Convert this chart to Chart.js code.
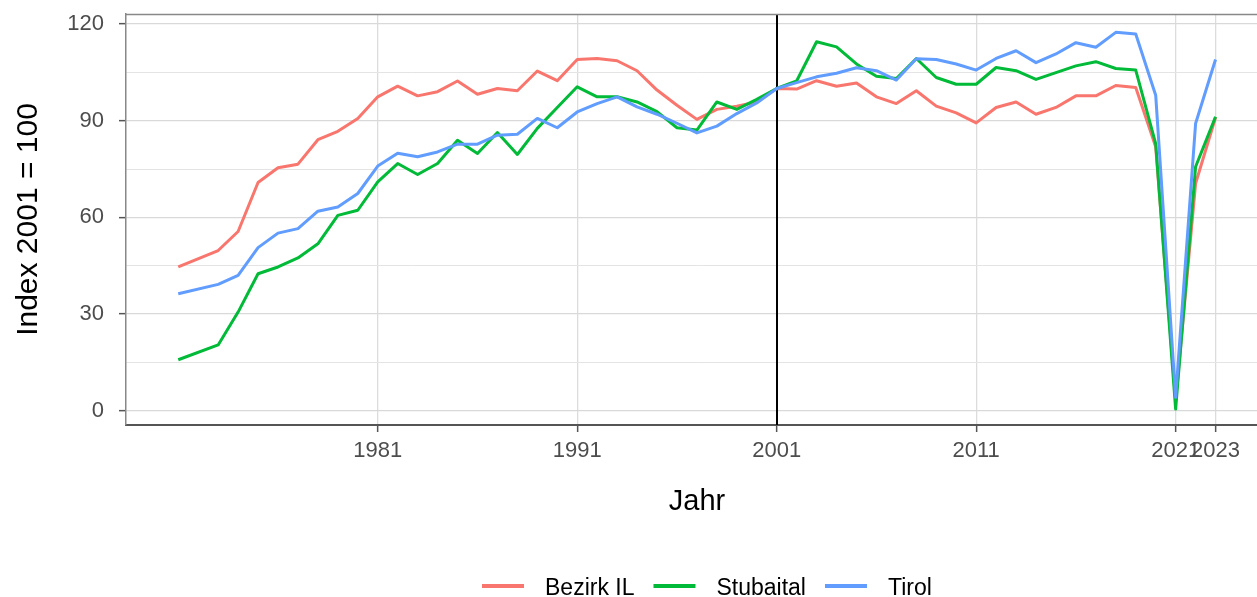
<!DOCTYPE html>
<html><head><meta charset="utf-8">
<script src="https://cdn.jsdelivr.net/npm/chart.js@4"></script>
<style>html,body{margin:0;padding:0;overflow:hidden;background:#fff;width:1257px;height:597px}
canvas{display:block}</style></head>
<body><canvas id="c" width="1268" height="597" style="width:1268px;height:597px"></canvas>
<script>
const years = [1971,1973,1974,1975,1976,1977,1978,1979,1980,1981,1982,1983,1984,1985,1986,1987,1988,1989,1990,
  1991,1992,1993,1994,1995,1996,1997,1998,1999,2000,2001,2002,2003,2004,2005,2006,2007,2008,2009,2010,
  2011,2012,2013,2014,2015,2016,2017,2018,2019,2020,2021,2022,2023];
const bezirkIL = [44.6,49.7,55.6,70.8,75.4,76.5,84.1,86.7,90.7,97.4,100.7,97.7,99.0,102.3,98.2,100.0,99.3,105.4,102.4,
  109.0,109.3,108.6,105.5,99.5,94.8,90.4,93.5,94.5,95.8,100,99.8,102.4,100.7,101.7,97.4,95.3,99.3,94.5,92.4,
  89.3,94.1,95.8,92.0,94.1,97.7,97.7,100.9,100.3,81.9,3.1,70.5,91.0];
const stubaital = [15.8,20.4,30.6,42.5,44.6,47.4,51.8,60.6,62.2,71.0,76.7,73.3,76.7,83.9,79.8,86.3,79.5,87.6,94.1,
  100.5,97.4,97.4,95.8,92.8,87.8,87.1,95.8,93.5,96.6,100,102.3,114.5,112.9,107.6,103.8,103.1,109.3,103.4,101.3,
  101.3,106.5,105.5,102.8,104.9,107.0,108.3,106.2,105.7,82.9,0.5,75.7,91.2];
const tirol = [36.3,39.2,42.0,50.6,55.1,56.5,61.9,63.2,67.4,75.9,79.9,78.8,80.3,82.7,82.7,85.5,85.8,90.7,87.8,
  92.7,95.3,97.4,94.3,92.0,89.2,86.2,88.3,92.2,95.5,100,101.8,103.6,104.7,106.4,105.5,102.6,109.2,109.0,107.6,
  105.7,109.3,111.7,108.0,110.7,114.2,112.8,117.4,116.9,97.9,4.1,89.1,109.0];
const seriesNames = ['Bezirk IL','Stubaital','Tirol'];
const seriesColors = ['#F8766D','#00BA38','#619CFF'];
const xTicks = [1981,1991,2001,2011,2021,2023];
const yMajor = [0,30,60,90,120];
const yMinor = [15,45,75,105];
const refYear = 2001;

const FONT = '"Liberation Sans", Arial, sans-serif';
const toXY = arr => years.map((y,i)=>({x:y, y:arr[i]}));

const panelPlugin = {
  id: 'panel',
  beforeDatasetsDraw(chart) {
    const {ctx, chartArea:a, scales} = chart;
    ctx.save();
    const px = Math.round(scales.x.getPixelForValue(refYear)) ;
    ctx.strokeStyle = '#000'; ctx.lineWidth = 2;
    ctx.beginPath(); ctx.moveTo(px, a.top); ctx.lineTo(px, a.bottom); ctx.stroke();
    ctx.strokeStyle = '#888'; ctx.lineWidth = 1.5;
    ctx.beginPath(); ctx.moveTo(a.left, a.top+0.5); ctx.lineTo(a.right, a.top+0.5); ctx.lineTo(a.right-0.5, a.bottom); ctx.stroke();
    ctx.restore();
  },
  afterDraw(chart) {
    const ctx = chart.ctx;
    ctx.save();
    ctx.font = '23px ' + FONT;
    ctx.textBaseline = 'middle';
    let x = 482; const y = 586;
    chart.data.datasets.forEach(ds => {
      ctx.strokeStyle = ds.borderColor; ctx.lineWidth = 4;
      ctx.beginPath(); ctx.moveTo(x, y); ctx.lineTo(x + 42, y); ctx.stroke();
      x += 42 + 21;
      ctx.fillStyle = '#000';
      ctx.fillText(ds.label, x, y + 3);
      x += ctx.measureText(ds.label).width + 19;
    });
    ctx.restore();
  }
};

const datasets = [bezirkIL, stubaital, tirol].map((arr,i)=>({
  label: seriesNames[i], data: toXY(arr), borderColor: seriesColors[i], backgroundColor: seriesColors[i],
  borderWidth: 3, pointRadius: 0, tension: 0, borderJoinStyle: 'round', order: 2 - i
}));

new Chart(document.getElementById('c'), {
  type: 'line',
  data: { datasets },
  options: {
    responsive: false, animation: false, devicePixelRatio: 1,
    layout: { padding: { top: 14, left: 0, right: 0, bottom: 0 } },
    plugins: { legend: { display: false }, tooltip: { enabled: false } },
    scales: {
      x: {
        type: 'linear', min: 1968.38, max: 2025.63,
        afterBuildTicks: s => { s.ticks = xTicks.map(v=>({value:v})); },
        afterFit: s => { s.height = 172; s.paddingLeft = 0; s.paddingRight = 0; },
        ticks: { autoSkip: false, maxRotation: 0, minRotation: 0, padding: 6, color: '#4d4d4d',
          font: { family: FONT, size: 22 }, callback: v => String(v) },
        grid: { color: '#dcdcdc', lineWidth: 1.3, tickLength: 7, tickColor: '#555', tickWidth: 1.5 },
        border: { display: true, color: '#555', width: 2 },
        title: { display: true, text: 'Jahr', color: '#000', font: { family: FONT, size: 29 },
          padding: { top: 0, bottom: 78 } }
      },
      y: {
        type: 'linear', min: -4.44, max: 123.1,
        afterBuildTicks: s => { s.ticks = yMajor.concat(yMinor).sort((a,b)=>a-b).map(v=>({value:v})); },
        afterFit: s => { s.width = 126; s.paddingTop = 0; s.paddingBottom = 0; },
        ticks: { padding: 15, color: '#4d4d4d', font: { family: FONT, size: 22 },
          callback: v => yMajor.includes(v) ? String(v) : '' },
        grid: { color: c => yMajor.includes(c.tick && c.tick.value) ? '#d9d9d9' : '#e4e4e4',
          lineWidth: c => yMajor.includes(c.tick && c.tick.value) ? 1.3 : 1,
          tickLength: 7, tickWidth: 1.5,
          tickColor: c => yMajor.includes(c.tick && c.tick.value) ? '#555' : 'rgba(0,0,0,0)' },
        border: { display: true, color: '#888', width: 1.5 },
        title: { display: true, text: 'Index 2001 = 100', color: '#000', font: { family: FONT, size: 30 },
          padding: { top: 11, bottom: 0 } }
      }
    }
  },
  plugins: [panelPlugin]
});
</script>
</body></html>
